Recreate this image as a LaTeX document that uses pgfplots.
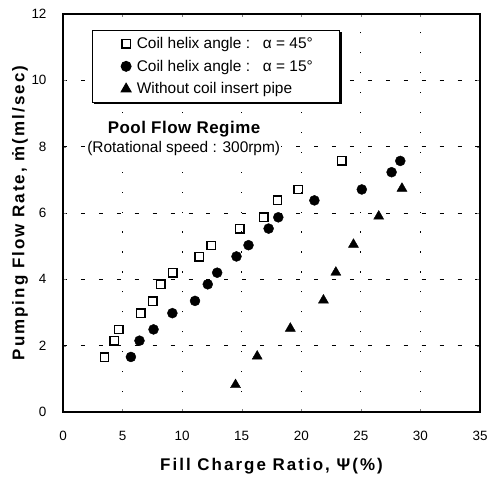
\documentclass[border=0pt]{standalone}
\usepackage{pgfplots}
\pgfplotsset{compat=1.18}
\usepackage{fontspec}
\setmainfont{Liberation Sans}
\usetikzlibrary{shadows}
\pgfplotsset{myleg/.style={legend image code/.code={\path (0,0) (38bp,0); \draw[##1] plot coordinates {(30bp,0)};}}}
\begin{document}
\begin{tikzpicture}
\begin{axis}[
  scale only axis,
  width=417bp, height=398bp,
  xmin=0, xmax=35, ymin=0, ymax=12,
  xtick={0,5,...,35}, ytick={0,2,...,12},
  /pgf/number format/assume math mode=true,
  tick label style={font=\fontsize{13.5}{16}\selectfont},
  xticklabel style={anchor=center, yshift=-24bp},
  yticklabel style={anchor=east, xshift=-13bp},
  tick align=inside, major tick length=3bp,
  axis line style={line width=1.3pt},
  xmajorgrids, ymajorgrids,
  x grid style={black, line width=0.9pt, dash pattern=on 1.2pt off 18.8pt},
  y grid style={black, line width=0.7pt, dash pattern=on 4pt off 14pt},
  xlabel={Fill Charge Ratio, Ψ(\%)},
  ylabel={Pumping Flow Rate, \.{m}(ml/sec)},
  label style={font=\fontsize{17}{20}\selectfont\bfseries\addfontfeature{LetterSpace=12}},
  xlabel style={anchor=center, at={(axis description cs:0.5,-0.1357)}},
  ylabel style={anchor=center, at={(axis description cs:-0.1031,0.5)}},
  legend cell align=left,
  legend style={at={(0.0695,0.96)}, anchor=north west, draw=black, line width=0.9pt,
    fill=white, font=\fontsize{15.5}{18}\selectfont, row sep=6pt,
    inner xsep=3pt, inner ysep=5pt,
    drop shadow={shadow xshift=1.8pt, shadow yshift=-1.8pt, fill=black, opacity=1}},
]
\addplot[only marks, mark=square, mark size=4.2bp, line width=1.4pt, black, myleg] coordinates {
(3.48,1.65) (4.29,2.15) (4.69,2.49) (6.54,2.98) (7.55,3.34) (8.22,3.85) (9.23,4.20)
(11.42,4.68) (12.43,5.02) (14.84,5.52) (16.86,5.87) (18.01,6.38) (19.75,6.71) (23.4,7.57)};
\addlegendentry{Coil helix angle :\ \ \ α = 45°\hspace*{22bp}}
\addplot[only marks, mark=*, mark size=5bp, black, myleg] coordinates {
(5.70,1.66) (6.42,2.15) (7.60,2.49) (9.18,2.98) (11.08,3.35) (12.15,3.85) (12.94,4.20)
(14.56,4.69) (15.57,5.03) (17.26,5.53) (18.07,5.87) (21.1,6.38) (25.08,6.71) (27.58,7.23) (28.31,7.57)};
\addlegendentry{Coil helix angle :\ \ \ α = 15°}
\addplot[only marks, mark=triangle*, mark size=5.8bp, black, myleg] coordinates {
(14.48,0.82) (16.3,1.68) (19.08,2.52) (21.86,3.37) (22.9,4.21) (24.38,5.05) (26.5,5.90) (28.45,6.74)};
\addlegendentry{Without coil insert pipe}
\node[font=\fontsize{17}{20}\selectfont\bfseries\addfontfeature{LetterSpace=3}, fill=white, inner sep=1pt] at (axis cs:10.16,8.53) {Pool Flow Regime};
\node[font=\fontsize{15.5}{18}\selectfont, fill=white, inner sep=1pt] at (axis cs:10.13,7.95) {(Rotational speed : 300rpm)};
\end{axis}
\pgfresetboundingbox
\path[use as bounding box] ([shift={(-63bp,-69bp)}]current axis.south west) rectangle ([shift={(7bp,14bp)}]current axis.north east);
\end{tikzpicture}
\end{document}
